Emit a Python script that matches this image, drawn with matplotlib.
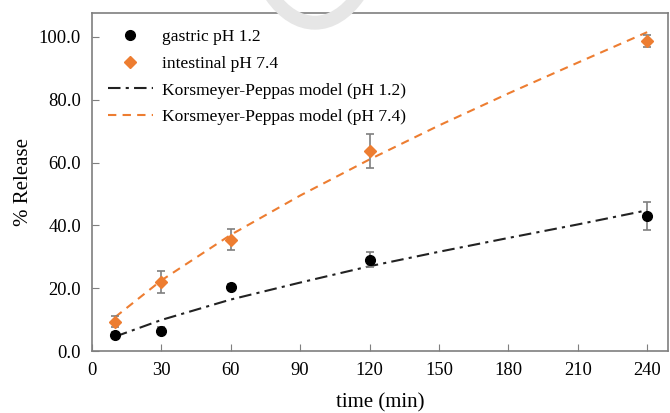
import matplotlib
matplotlib.use('Agg')
import matplotlib.pyplot as plt
from matplotlib.patches import Arc

plt.rcParams['font.family'] = ['Liberation Serif', 'DejaVu Serif']

# measured release (%)
time = [10, 30, 60, 120, 240]
gastric = [5.0, 6.5, 20.3, 29.1, 43.0]
gastric_err = [1.0, 1.0, 1.0, 2.4, 4.5]
intestinal = [9.4, 22.0, 35.5, 63.7, 98.6]
intestinal_err = [1.9, 3.5, 3.4, 5.5, 1.9]

# Korsmeyer-Peppas fitted curves
model_time = [10, 30, 60, 90, 120, 150, 180, 210, 240]
model_gastric = [4.6, 9.9, 16.4, 21.8, 27.0, 31.6, 36.0, 40.3, 44.8]
model_intestinal = [10.8, 22.5, 37.0, 49.5, 61.0, 71.8, 82.0, 91.8, 101.5]

orange = '#ED7D31'
grey = '#7f7f7f'

fig = plt.figure(figsize=(6.7, 4.13), dpi=100)
ax = fig.add_axes([0.1373, 0.150, 0.8597, 0.8185])

g = ax.errorbar(time, gastric, yerr=gastric_err, fmt='o', color='black', ms=7,
                ecolor=grey, elinewidth=1.2, capsize=3, capthick=1.2, zorder=3)
i = ax.errorbar(time, intestinal, yerr=intestinal_err, fmt='D', color=orange, ms=6,
                ecolor=grey, elinewidth=1.2, capsize=3, capthick=1.2, zorder=3)
m1, = ax.plot(model_time, model_gastric, color='#222222', lw=1.5, dashes=(6, 2.5, 1.5, 2.5))
m2, = ax.plot(model_time, model_intestinal, color=orange, lw=1.5, dashes=(4, 3))

ax.set_xlim(0, 249)
ax.set_ylim(0, 107.6)
ax.set_xticks(range(0, 241, 30))
ax.set_yticks([0, 20, 40, 60, 80, 100])
ax.set_yticklabels([f'{v:.1f}' for v in [0, 20, 40, 60, 80, 100]])
ax.tick_params(direction='in', length=5, color=grey, labelsize=13.3, pad=8)
for s in ax.spines.values():
    s.set_color(grey)
    s.set_linewidth(1.2)

ax.set_xlabel('time (min)', fontsize=15, labelpad=10)
ax.set_ylabel('% Release', fontsize=15, labelpad=4)

ax.legend([g[0], i[0], m1, m2],
          ['gastric pH 1.2', 'intestinal pH 7.4',
           'Korsmeyer-Peppas model (pH 1.2)', 'Korsmeyer-Peppas model (pH 7.4)'],
          loc='upper left', bbox_to_anchor=(0.0, 1.0), frameon=False,
          fontsize=12.6, handlelength=2.6, handletextpad=0.5, labelspacing=0.6)

# faint watermark arc at the top
fig.patches.append(Arc((0.47, 1.22), 0.2, 0.55, theta1=205, theta2=335,
                       transform=fig.transFigure, color='#e6e6e6', lw=10, zorder=0))

fig.savefig('out.png', dpi=100)
